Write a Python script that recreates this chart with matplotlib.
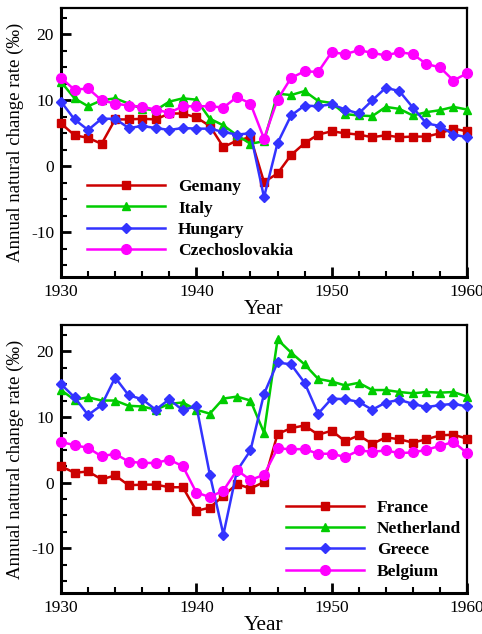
import matplotlib
matplotlib.use("Agg")
import matplotlib.pyplot as plt
from matplotlib.ticker import MultipleLocator

years = list(range(1930, 1961))

# top panel
germany = [6.5, 4.7, 4.3, 3.4, 7.1, 7.1, 7.2, 7.1, 8.0, 8.0, 7.4, 6.1, 2.9, 3.9, 4.4,
           -2.4, -1.1, 1.7, 3.5, 4.8, 5.3, 5.0, 4.8, 4.4, 4.7, 4.4, 4.5, 4.5, 5.0, 5.7, 5.3]
italy = [12.8, 10.3, 9.1, 10.0, 10.3, 9.5, 8.7, 8.5, 9.8, 10.3, 10.1, 7.2, 6.2, 4.7, 3.4,
         3.8, 11.0, 10.8, 11.4, 9.9, 9.6, 7.9, 7.7, 7.6, 9.0, 8.7, 7.7, 8.2, 8.5, 9.0, 8.6]
hungary = [9.8, 7.1, 5.5, 7.2, 7.2, 5.8, 6.1, 5.8, 5.5, 5.8, 5.7, 5.7, 5.2, 4.8, 5.0,
           -4.7, 3.5, 7.7, 9.2, 9.1, 9.4, 8.6, 8.0, 10.0, 11.9, 11.4, 8.9, 6.5, 6.1, 4.8, 4.4]
czech = [13.4, 11.6, 11.8, 10.0, 9.5, 9.2, 9.0, 8.6, 8.1, 9.1, 9.1, 9.1, 8.9, 10.5, 9.5,
         4.2, 10.1, 13.4, 14.4, 14.3, 17.3, 17.0, 17.6, 17.2, 16.8, 17.3, 17.0, 15.5, 15.0, 13.0, 14.1]

# bottom panel
france = [2.5, 1.5, 1.7, 0.5, 1.1, -0.4, -0.3, -0.3, -0.7, -0.7, -4.3, -3.8, -2.0, -0.2, -0.9,
          0.1, 7.4, 8.3, 8.7, 7.3, 7.9, 6.3, 7.2, 5.9, 6.9, 6.6, 6.1, 6.6, 7.2, 7.3, 6.7]
netherland = [14.1, 12.6, 13.0, 12.5, 12.5, 11.7, 11.6, 11.1, 12.0, 12.2, 11.1, 10.5, 12.8, 13.1, 12.5,
              7.6, 21.8, 19.8, 18.0, 15.8, 15.4, 14.8, 15.2, 14.1, 14.1, 13.8, 13.6, 13.8, 13.7, 13.8, 13.1]
greece = [15.0, 13.0, 10.3, 11.8, 16.0, 13.3, 12.7, 11.1, 12.7, 11.0, 11.7, 1.2, -7.9, 1.8, 4.9,
          13.5, 18.3, 18.0, 15.2, 10.5, 12.8, 12.7, 12.3, 11.1, 12.2, 12.6, 12.0, 11.5, 11.8, 12.0, 11.6]
belgium = [6.2, 5.7, 5.3, 4.0, 4.4, 3.2, 3.0, 3.0, 3.5, 2.5, -1.5, -2.2, -1.2, 1.9, 0.4,
           1.2, 5.2, 5.1, 5.1, 4.4, 4.4, 3.9, 4.9, 4.7, 4.9, 4.5, 4.6, 5.0, 5.6, 6.2, 4.5]

top_labels = ["Gemany", "Italy", "Hungary", "Czechoslovakia"]
bottom_labels = ["France", "Netherland", "Greece", "Belgium"]

plt.rcParams['font.family'] = ['Liberation Serif', 'DejaVu Serif']
plt.rcParams['axes.unicode_minus'] = False

colors = ['#CC0000', '#00CC00', '#3333FF', '#FF00FF']
markers = ['s', '^', 'D', 'o']
msizes = [5.5, 6, 5.5, 7]

fig = plt.figure(figsize=(4.82, 6.34), dpi=100)
W, H = 482, 634
ax1 = fig.add_axes([61 / W, 1 - 277 / H, 406 / W, 269 / H])
ax2 = fig.add_axes([61 / W, 1 - 593 / H, 406 / W, 268 / H])


def draw(ax, series, labels, loc_anchor):
    for s, lab, c, m, ms in zip(series, labels, colors, markers, msizes):
        ax.plot(years, s, color=c, marker=m, markersize=ms, linewidth=1.8,
                label=lab, clip_on=False, zorder=3)
    ax.set_xlim(1930, 1960)
    ax.set_ylim(-16.8, 24)
    ax.xaxis.set_major_locator(MultipleLocator(10))
    ax.xaxis.set_minor_locator(MultipleLocator(2))
    ax.yaxis.set_major_locator(MultipleLocator(10))
    ax.yaxis.set_minor_locator(MultipleLocator(2.5))
    ax.tick_params(which='both', direction='in', top=False, right=False,
                   labelsize=12.5, width=1.5, pad=5)
    ax.tick_params(which='major', length=7, width=2)
    ax.tick_params(which='minor', length=4)
    for sp in ax.spines.values():
        sp.set_linewidth(1.6)
    ax.spines['left'].set_linewidth(2.2)
    ax.spines['bottom'].set_linewidth(2.2)
    ax.set_xlabel('Year', fontsize=15.5, labelpad=0)
    ax.set_ylabel('Annual natural change rate (‰)', fontsize=13.5, labelpad=5)
    ax.legend(loc='upper left', bbox_to_anchor=loc_anchor, frameon=False,
              prop={'weight': 'bold', 'size': 12.5}, handlelength=4.5,
              handletextpad=0.75, labelspacing=0.3, borderaxespad=0)


draw(ax1, [germany, italy, hungary, czech], top_labels, (0.047, 0.39))
draw(ax2, [france, netherland, greece, belgium], bottom_labels, (0.537, 0.375))

fig.savefig('out.png', dpi=100)
plt.close(fig)
